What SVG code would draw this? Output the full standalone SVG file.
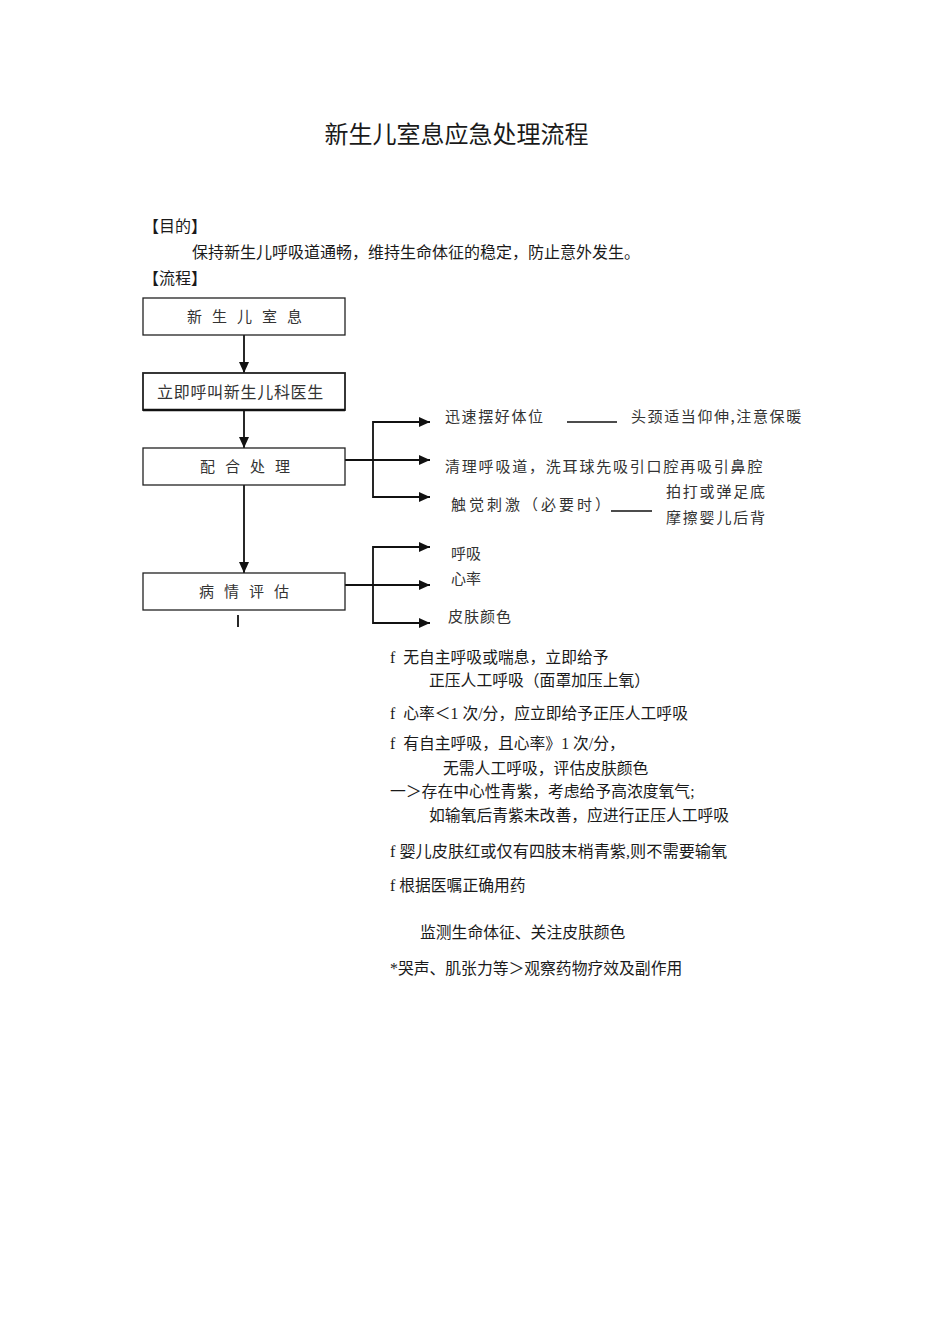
<svg xmlns="http://www.w3.org/2000/svg" width="950" height="1344" viewBox="0 0 950 1344">
<defs>
<style>
.t{font-family:"Liberation Serif","Noto Sans CJK SC",serif;fill:#1a1a1a}
.f{font-family:"Noto Sans CJK SC",sans-serif;fill:#333;font-size:15px}
.box{fill:#fff;stroke:#222;stroke-width:1.3}
.ln{fill:none;stroke:#111;stroke-width:1.8}
.dl{fill:none;stroke:#111;stroke-width:1.5}
</style>
<marker id="ah" markerUnits="userSpaceOnUse" markerWidth="12" markerHeight="10" refX="11" refY="5" orient="auto">
<path d="M0,0 L11,5 L0,10 Z" fill="#111"/>
</marker>
</defs>
<rect width="950" height="1344" fill="#fff"/>

<text class="t" x="456.5" y="143" font-size="24" text-anchor="middle">新生儿室息应急处理流程</text>
<text class="t" x="143" y="232" font-size="16">【目的】</text>
<text class="t" x="192" y="258" font-size="16">保持新生儿呼吸道通畅，维持生命体征的稳定，防止意外发生。</text>
<text class="t" x="143" y="284" font-size="16">【流程】</text>

<g id="connectors">
<line class="ln" x1="244" y1="335" x2="244" y2="373" marker-end="url(#ah)"/>
<line class="ln" x1="244" y1="410" x2="244" y2="448" marker-end="url(#ah)"/>
<line class="ln" x1="244" y1="485" x2="244" y2="573" marker-end="url(#ah)"/>
<line class="ln" x1="238" y1="615" x2="238" y2="627"/>
<line class="ln" x1="345" y1="460" x2="430" y2="460" marker-end="url(#ah)"/>
<path class="ln" d="M430,422 H373 V497 H430" marker-end="url(#ah)"/>
<line class="ln" x1="373" y1="422" x2="430" y2="422" marker-end="url(#ah)"/>
<line class="ln" x1="345" y1="585" x2="430" y2="585" marker-end="url(#ah)"/>
<path class="ln" d="M430,547 H373 V623 H430" marker-end="url(#ah)"/>
<line class="ln" x1="373" y1="547" x2="430" y2="547" marker-end="url(#ah)"/>
<line class="dl" x1="567" y1="422" x2="617" y2="422"/>
<line class="dl" x1="611" y1="511" x2="652" y2="511"/>
</g>

<g id="n1">
<rect class="box" x="143" y="298" width="202" height="37"/>
<text class="f" x="187" y="322" letter-spacing="10">新生儿室息</text>
</g>
<g id="n2">
<rect class="box" x="143" y="373" width="202" height="37" style="stroke-width:1.8"/>
<line x1="143" y1="410" x2="345" y2="410" stroke="#111" stroke-width="2.4"/>
<text class="f" x="157" y="398" letter-spacing="0.7" style="font-size:16px">立即呼叫新生儿科医生</text>
</g>
<g id="n3">
<rect class="box" x="143" y="448" width="202" height="37"/>
<text class="f" x="200" y="472" letter-spacing="10">配合处理</text>
</g>
<g id="n4">
<rect class="box" x="143" y="573" width="202" height="37"/>
<text class="f" x="199" y="597" letter-spacing="10">病情评估</text>
</g>

<g id="actions">
<text class="f" x="445" y="422" letter-spacing="1.6">迅速摆好体位</text>
<text class="f" x="631" y="422" letter-spacing="1.6">头颈适当仰伸,注意保暖</text>
<text class="f" x="445" y="472" letter-spacing="1.8">清理呼吸道，洗耳球先吸引口腔再吸引鼻腔</text>
<text class="f" x="451" y="510" letter-spacing="3">触觉刺激（必要时）</text>
<text class="f" x="666" y="497" letter-spacing="1.8">拍打或弹足底</text>
<text class="f" x="666" y="523" letter-spacing="1.8">摩擦婴儿后背</text>
</g>
<g id="assess">
<text class="f" x="451" y="559">呼吸</text>
<text class="f" x="451" y="584">心率</text>
<text class="f" x="448" y="622" letter-spacing="1">皮肤颜色</text>
</g>

<g id="notes">
<text class="t" x="390" y="663" font-size="15.8" xml:space="preserve">f  无自主呼吸或喘息，立即给予</text>
<text class="t" x="429" y="686" font-size="15.8">正压人工呼吸（面罩加压上氧）</text>
<text class="t" x="390" y="719" font-size="15.8" xml:space="preserve">f  心率＜1 次/分，应立即给予正压人工呼吸</text>
<text class="t" x="390" y="749" font-size="15.8" xml:space="preserve">f  有自主呼吸，且心率》1 次/分，</text>
<text class="t" x="443" y="774" font-size="15.8">无需人工呼吸，评估皮肤颜色</text>
<text class="t" x="390" y="797" font-size="15.8">一＞存在中心性青紫，考虑给予高浓度氧气;</text>
<text class="t" x="429" y="821" font-size="15.8">如输氧后青紫未改善，应进行正压人工呼吸</text>
<text class="t" x="390" y="857" font-size="16.2">f 婴儿皮肤红或仅有四肢末梢青紫,则不需要输氧</text>
<text class="t" x="390" y="891" font-size="15.8">f 根据医嘱正确用药</text>
<text class="t" x="420" y="938" font-size="15.8">监测生命体征、关注皮肤颜色</text>
<text class="t" x="390" y="974" font-size="15.8">*哭声、肌张力等＞观察药物疗效及副作用</text>
</g>
</svg>
